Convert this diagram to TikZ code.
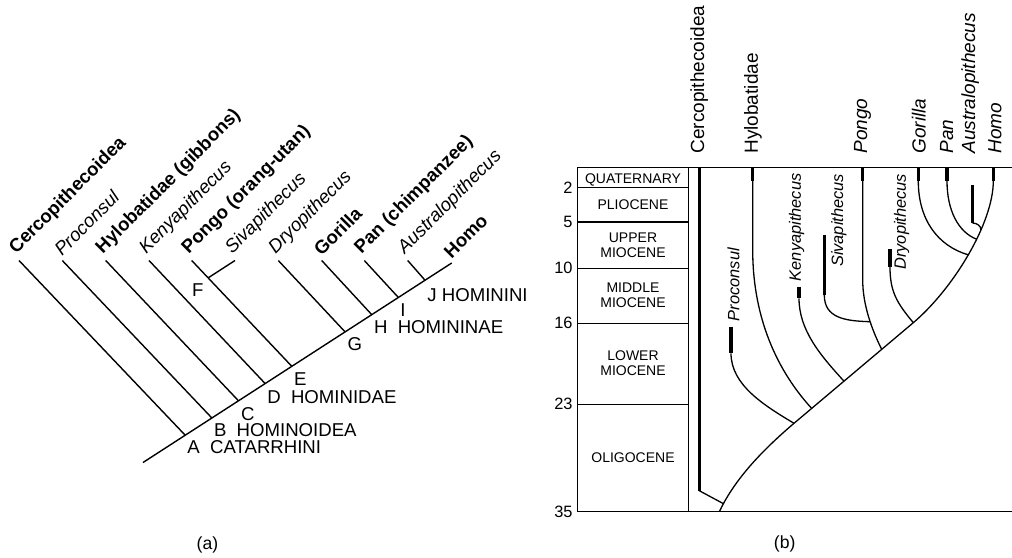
\documentclass[tikz,border=0pt]{standalone}
\usepackage{fontspec}
\setmainfont{Liberation Sans}
\usepackage{tikz}
\newcommand{\fTip}{\fontsize{9.3}{11}\selectfont}
\newcommand{\fGen}{\fontsize{9.5}{11}\selectfont}
\newcommand{\fFos}{\fontsize{8.2}{10}\selectfont}
\newcommand{\fEp}{\fontsize{7}{7.5}\selectfont}
\newcommand{\fCap}{\fontsize{8.8}{10}\selectfont}

\begin{document}
\begin{tikzpicture}[x=0.5pt, y=-0.5pt,
    branch/.style={line width=0.7pt},
    taxon/.style={rotate=45, anchor=south west, inner sep=1pt},
    living/.style={taxon, font=\fTip\bfseries},
    fossil/.style={taxon, font=\fTip\itshape},
    clade/.style={anchor=base west, inner sep=0pt, font=\fTip},
    hline/.style={line width=0.55pt},
    thickbar/.style={line width=1.6pt},
    lin/.style={line width=0.65pt},
    genus/.style={rotate=90, anchor=west, inner sep=1.5pt, font=\fGen},
    genusit/.style={genus, font=\fGen\itshape},
    extinct/.style={rotate=90, anchor=west, inner sep=1.5pt, font=\fFos\itshape},
    epoch/.style={align=center, inner sep=0pt, font=\fEp},
    age/.style={anchor=east, inner sep=1pt, font=\fFos}]
    \useasboundingbox (0,0) rectangle (1012,557);

    % (a) cladogram
    \coordinate (root) at (143,462.5);
    \coordinate (A) at (185,435);
    \coordinate (B) at (211.7,417.8);
    \coordinate (C) at (238.3,400.6);
    \coordinate (D) at (265,383.4);
    \coordinate (E) at (291.7,366.2);
    \coordinate (F) at (208.1,277.9);
    \coordinate (G) at (345,331.8);
    \coordinate (H) at (371.7,314.6);
    \coordinate (I) at (398.3,297.4);
    \coordinate (J) at (425,280.2);
    \node[living] (cer) at (19,260.5) {Cercopithecoidea};
    \node[fossil] (pro) at (62.3,260.5) {Proconsul};
    \node[living] (hyl) at (105.7,260.5) {Hylobatidae (gibbons)};
    \node[fossil] (ken) at (149,260.5) {Kenyapithecus};
    \node[living] (pon) at (191.7,260.5) {Pongo (orang-utan)};
    \node[fossil] (siv) at (235,260.5) {Sivapithecus};
    \node[fossil] (dry) at (278.3,260.5) {Dryopithecus};
    \node[living] (gor) at (321.7,260.5) {Gorilla};
    \node[living] (pan) at (364.3,260.5) {Pan (chimpanzee)};
    \node[fossil] (aus) at (407.7,260.5) {Australopithecus};
    \node[living] (hom) at (451.7,263) {Homo};
    \draw[branch] (root) -- (hom.south west);
    \draw[branch] (cer.south west) -- (A);
    \draw[branch] (pro.south west) -- (B);
    \draw[branch] (hyl.south west) -- (C);
    \draw[branch] (ken.south west) -- (D);
    \draw[branch] (pon.south west) -- (E);
    \draw[branch] (siv.south west) -- (F);
    \draw[branch] (dry.south west) -- (G);
    \draw[branch] (gor.south west) -- (H);
    \draw[branch] (pan.south west) -- (I);
    \draw[branch] (aus.south west) -- (J);
    \node[clade] (lA) at (187,453.3) {A~~CATARRHINI};
    \node[clade] (lB) at (213.6,436.7) {B~~HOMINOIDEA};
    \node[clade] (lC) at (240.7,420) {C};
    \node[clade] (lD) at (266.9,403.3) {D~~HOMINIDAE};
    \node[clade] (lE) at (293.6,385) {E};
    \node[clade] (lF) at (191.8,296.7) {F};
    \node[clade] (lG) at (347.3,350) {G};
    \node[clade] (lH) at (373.6,333.3) {H~~HOMININAE};
    \node[clade] (lI) at (400,316) {I};
    \node[clade] (lJ) at (427,301.7) {J HOMININI};
    \node[font=\fCap] (capa) at (207.5,545) {(a)};

    % (b) time scale
    \draw[hline] (577.7,167.3) -- (1012,167.3);
    \draw[hline] (577.7,511.7) -- (1012,511.7);
    \draw[hline] (577.7,167.3) -- (577.7,511.7);
    \draw[hline] (688.3,167.3) -- (688.3,511.7);
    \draw[hline] (577.7,187.3) -- (688.3,187.3);
    \draw[hline] (577.7,222) -- (688.3,222);
    \draw[hline] (577.7,268.3) -- (688.3,268.3);
    \draw[hline] (577.7,323.3) -- (688.3,323.3);
    \draw[hline] (577.7,404.3) -- (688.3,404.3);
    \node[epoch] (qua) at (633,179.5) {QUATERNARY};
    \node[epoch] (pli) at (633,205) {PLIOCENE};
    \node[epoch] (umi) at (633,245) {UPPER\\MIOCENE};
    \node[epoch] (mmi) at (633,295.5) {MIDDLE\\MIOCENE};
    \node[epoch] (lmi) at (633,363.5) {LOWER\\MIOCENE};
    \node[epoch] (oli) at (633,458) {OLIGOCENE};
    \node[age] (y2) at (575,187.3) {2};
    \node[age] (y5) at (575,222) {5};
    \node[age] (y10) at (575,268.3) {10};
    \node[age] (y16) at (575,323.3) {16};
    \node[age] (y23) at (575,404.3) {23};
    \node[age] (y35) at (575,511.7) {35};

    % main stem of the hominoids
    \draw[lin] (719.3,511.7) .. controls (732,485) and (754,457.3) ..
        coordinate[pos=0.1] (jcer) (794,423.3) coordinate (jpro)
        -- coordinate[pos=0.148] (jhyl) coordinate[pos=0.419] (jken)
           coordinate[pos=0.735] (jpon) (913.3,322.7) coordinate (jdry)
        .. controls (953.3,288.7) and (993.3,223) ..
        coordinate[pos=0.5] (jgor) coordinate[pos=0.6] (jpan)
        coordinate[pos=0.66] (jaus) (993.3,181) coordinate (bhom);
    \draw[thickbar] (993.3,167.3) -- (bhom);

    % lineages
    \draw[thickbar] (699.3,167.3) -- (699.3,490.7) coordinate (bcer);
    \draw[lin] (bcer) -- (jcer);
    \draw[thickbar] (731,326.7) -- (731,353.3) coordinate (bpro);
    \draw[lin] (bpro) .. controls (731,385) and (764,405.3) .. (jpro);
    \draw[thickbar] (752.7,167.3) -- (752.7,181) coordinate (bhyl);
    \draw[lin] (bhyl) -- (752.7,250) .. controls (752.7,310) and (772,365) .. (jhyl);
    \draw[thickbar] (799,286.7) -- (799,298.3) coordinate (bken);
    \draw[lin] (bken) .. controls (799,330) and (820,355) .. (jken);
    \draw[thickbar] (862.7,167.3) -- (862.7,181) coordinate (bpon);
    \draw[lin] (bpon) -- (862.7,280) .. controls (862.7,305) and (872,330) ..
        coordinate[pos=0.57] (jsiv) (jpon);
    \draw[thickbar] (824.3,235) -- (824.3,295) coordinate (bsiv);
    \draw[lin] (bsiv) .. controls (824.3,318) and (845,321) .. (jsiv);
    \draw[thickbar] (890,249) -- (890,267) coordinate (bdry);
    \draw[lin] (bdry) .. controls (890,292) and (897,303) .. (jdry);
    \draw[thickbar] (918.3,167.3) -- (918.3,181) coordinate (bgor);
    \draw[lin] (bgor) .. controls (918.3,220) and (938,246) .. (jgor);
    \draw[thickbar] (947,167.3) -- (947,181) coordinate (bpan);
    \draw[lin] (bpan) .. controls (947,210) and (958,232) .. (jpan);
    \draw[thickbar] (972.5,185) -- (972.5,223) coordinate (baus);
    \draw[lin] (baus) .. controls (977,223) and (981,226) .. (jaus);

    % names
    \node[genus] (ncer) at (699.2,157) {Cercopithecoidea};
    \node[genus] (nhyl) at (753,157) {Hylobatidae};
    \node[genusit] (npon) at (862.5,157) {Pongo};
    \node[genusit] (ngor) at (918.8,157) {Gorilla};
    \node[genusit] (npan) at (946.7,157) {Pan};
    \node[genusit] (naus) at (970.3,157) {Australopithecus};
    \node[genusit] (nhom) at (995,157) {Homo};
    \node[extinct] (npro) at (733.5,324.5) {Proconsul};
    \node[extinct] (nken) at (796.7,284.5) {Kenyapithecus};
    \node[extinct] (nsiv) at (838.8,270.3) {Sivapithecus};
    \node[extinct] (ndry) at (901.7,273) {Dryopithecus};
    \node[font=\fCap] (capb) at (784.7,544) {(b)};
\end{tikzpicture}
\end{document}
